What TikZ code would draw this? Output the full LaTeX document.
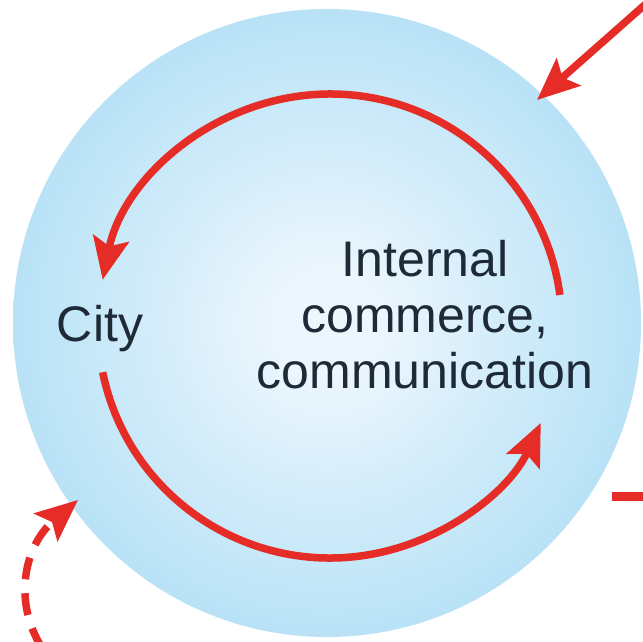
\documentclass[tikz,border=0pt]{standalone}
\usepackage{fontspec}
\setmainfont{Liberation Sans}
\usetikzlibrary{arrows.meta}
\definecolor{bubin}{RGB}{236,246,253}
\definecolor{bubmid}{RGB}{196,231,248}
\definecolor{bubout}{RGB}{164,217,244}
\definecolor{flowred}{RGB}{230,44,38}
\definecolor{ink}{RGB}{30,42,55}
% soft pale centre fading to light blue at the rim
\pgfdeclareradialshading{bubbleshade}{\pgfpointorigin}{color(0bp)=(bubin); color(4bp)=(bubin); color(20bp)=(bubmid); color(34bp)=(bubout); color(50bp)=(bubout)}
\begin{document}
\begin{tikzpicture}[x=1pt,y=1pt,
  flow/.style={draw=flowred, line width=7.5pt, -{Stealth[length=42pt,width=36pt,inset=8pt]}},
  lbl/.style={text=ink, font=\fontsize{50}{56}\selectfont, align=center, inner sep=0pt}]
\useasboundingbox (0,0) rectangle (643,642);
\fill[white] (0,0) rectangle (643,642);

% the city bubble
\node[circle, minimum size=628pt, inner sep=0pt, shading=bubbleshade] (town) at (327,319) {};

% labels
\node[lbl, anchor=base] (city) at (100,300) {City};
\node[lbl] (internal) at (425,327) {Internal\\commerce,\\communication};

% internal circulation loop
\coordinate (hub) at (330,316);
\draw[flow] ([shift={(7.7:232)}]hub) arc[start angle=7.7, end angle=168.5, radius=232];
\draw[flow] ([shift={(191.5:232)}]hub) arc[start angle=191.5, end angle=335.3, radius=232];

% exchanges with the outside
\coordinate (infrom) at (648,640);
\coordinate (inat) at (537,542);
\draw[flow] (infrom) -- (inat);

\coordinate (dashfrom) at (42,-6);
\coordinate (dashat) at (78,142);
\draw[flow, dash pattern=on 22pt off 14pt] (dashfrom) .. controls (12,42) and (25,97) .. (dashat);

\coordinate (outfrom) at (612,145);
\coordinate (outto) at (650,145);
\draw[flowred, line width=9pt] (outfrom) -- (outto);
\end{tikzpicture}
\end{document}
